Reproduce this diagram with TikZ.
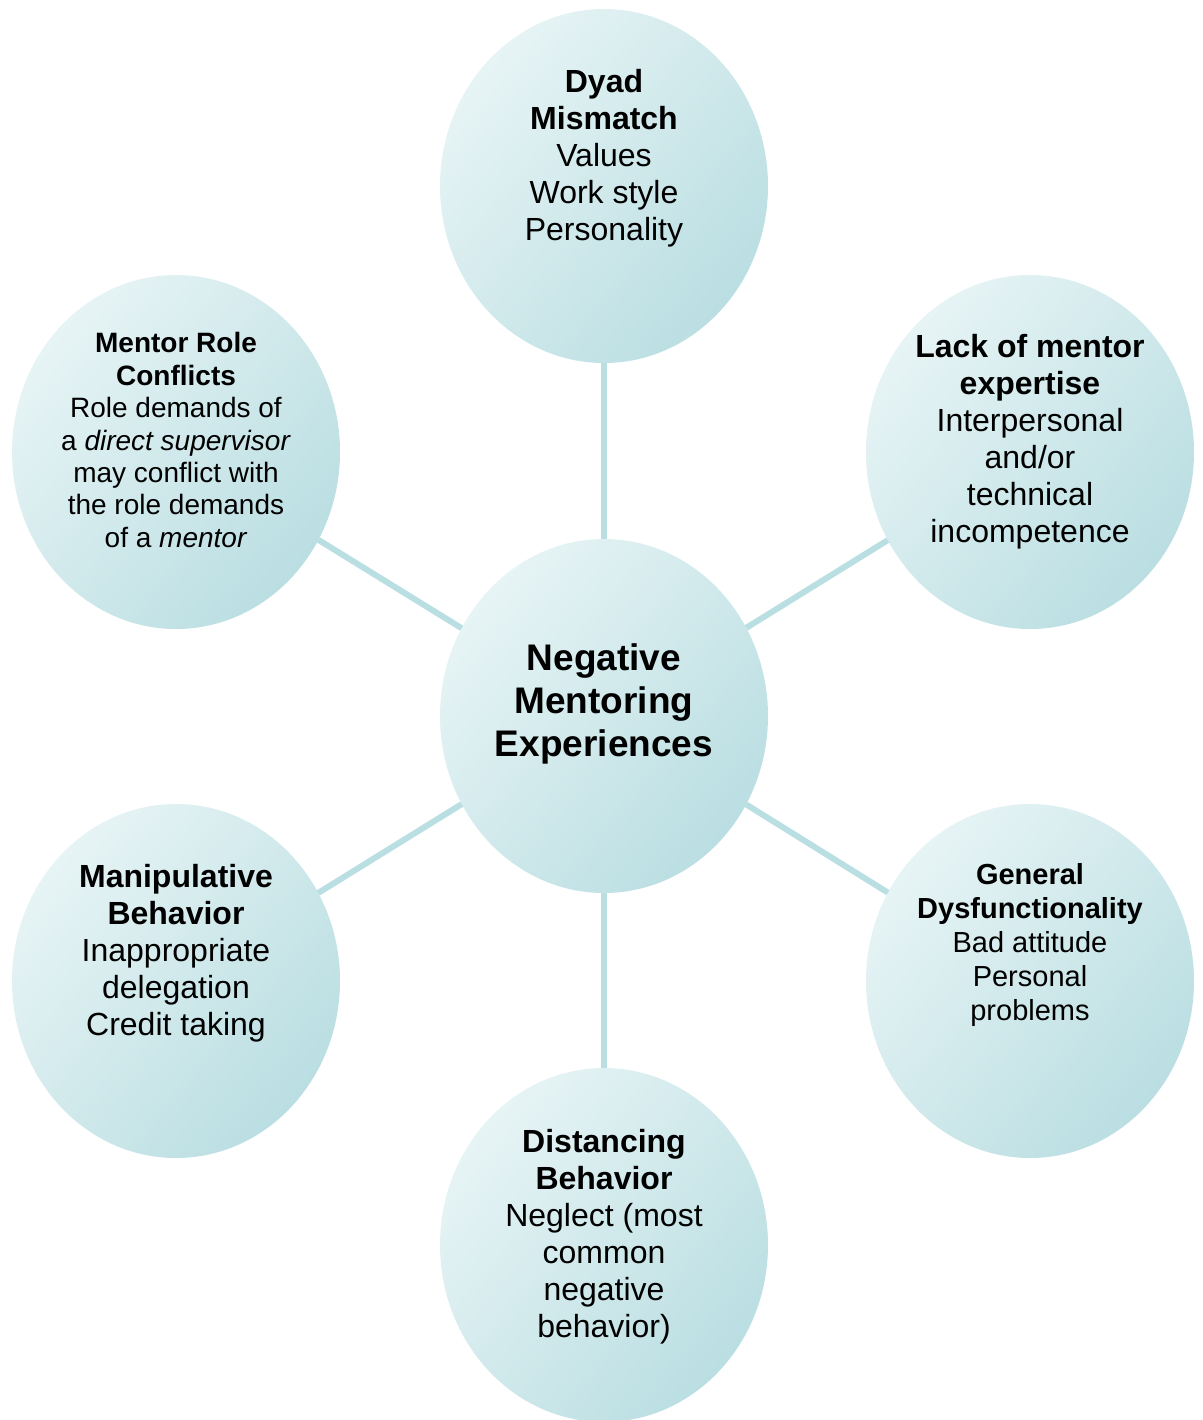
\documentclass[tikz,border=0pt]{standalone}
\usepackage{fontspec}
\setmainfont{Liberation Sans}
\usetikzlibrary{shapes.geometric}
\definecolor{bubblelight}{RGB}{231,244,245}
\definecolor{bubbledark}{RGB}{186,222,226}
\definecolor{spokecolor}{RGB}{185,223,226}
\tikzset{bubble/.style={ellipse,inner sep=0pt,outer sep=0pt,minimum width=164pt,minimum height=177pt,
		top color=bubblelight,bottom color=bubbledark,shading angle=50},
	bubbletext/.style={align=center,inner sep=0pt,font=\fontsize{16}{18.5}\selectfont},
	smalltext/.style={bubbletext,font=\fontsize{14.5}{17}\selectfont},
	tinytext/.style={bubbletext,font=\fontsize{14}{16.2}\selectfont},
	hubtext/.style={bubbletext,font=\bfseries\fontsize{18.5}{21.5}\selectfont},
	spoke/.style={draw=spokecolor,line width=3pt}}

\begin{document}
\begin{tikzpicture}[x=0.5pt,y=-0.5pt]
\useasboundingbox (0,0) rectangle (1203,1420);
% bubbles
\node[bubble] (hub) at (604,716) {};
\node[bubble] (dyad) at (604,186) {};
\node[bubble] (lack) at (1030,452) {};
\node[bubble] (general) at (1030,981) {};
\node[bubble] (distancing) at (604,1245) {};
\node[bubble] (manip) at (176,981) {};
\node[bubble] (role) at (176,452) {};
% spokes
\foreach \n in {dyad,lack,general,distancing,manip,role}
  \draw[spoke] (hub) -- (\n);
% texts
\node[hubtext] (hubtext) at (604,704) {Negative\\Mentoring\\Experiences};
\node[bubbletext] (dyadtext) at (604,158) {\textbf{Dyad}\\\textbf{Mismatch}\\Values\\Work style\\Personality};
\node[bubbletext] (lacktext) at (1030,441.5) {\textbf{Lack of mentor}\\\textbf{expertise}\\Interpersonal\\and/or\\technical\\incompetence};
\node[smalltext] (generaltext) at (1030,945) {\textbf{General}\\\textbf{Dysfunctionality}\\Bad attitude\\Personal\\problems};
\node[bubbletext] (distancingtext) at (604,1236.5) {\textbf{Distancing}\\\textbf{Behavior}\\Neglect (most\\common\\negative\\behavior)};
\node[bubbletext] (maniptext) at (176,953) {\textbf{Manipulative}\\\textbf{Behavior}\\Inappropriate\\delegation\\Credit taking};
\node[tinytext] (roletext) at (176,440) {\textbf{Mentor Role}\\\textbf{Conflicts}\\Role demands of\\a \textit{direct supervisor}\\may conflict with\\the role demands\\of a \textit{mentor}};
\end{tikzpicture}
\end{document}
